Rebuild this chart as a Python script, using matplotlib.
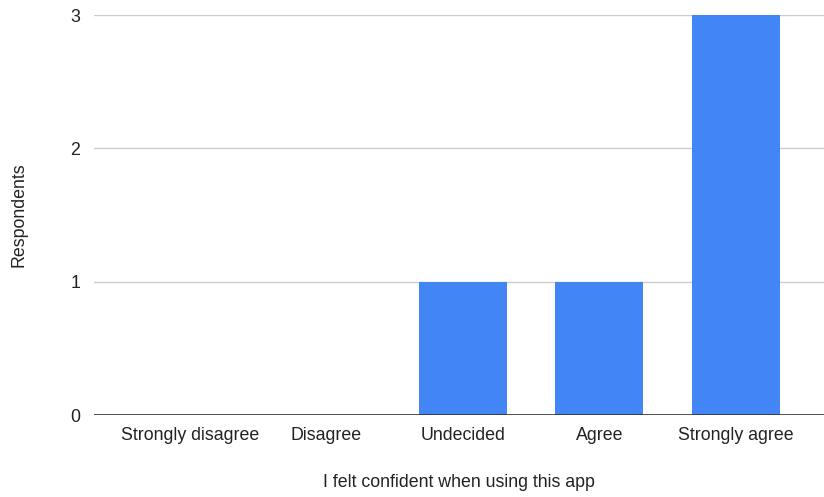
import matplotlib
matplotlib.use('Agg')
import matplotlib.pyplot as plt

BAR_COLOR = '#4285f4'
GRID_COLOR = '#cccccc'
TEXT_COLOR = '#222222'

categories = ['Strongly disagree', 'Disagree', 'Undecided', 'Agree', 'Strongly agree']
respondents = [0, 0, 1, 1, 3]
yticks = [0, 1, 2, 3]

plt.rcParams['font.family'] = ['Liberation Sans', 'DejaVu Sans']
FS = 12.8

fig = plt.figure(figsize=(8.24, 4.97), dpi=100)
ax = fig.add_axes([94 / 824, 82 / 497, 730 / 824, 400 / 497])

xs = list(range(len(categories)))
ax.bar(xs, respondents, width=0.645, color=BAR_COLOR, linewidth=0, zorder=3)

ax.set_xlim(-0.703, 4.645)
ax.set_ylim(0, 3)
ax.set_xticks(xs)
ax.set_xticklabels(categories, fontsize=FS, color=TEXT_COLOR)
ax.set_yticks(yticks)
ax.set_yticklabels([str(t) for t in yticks], fontsize=FS, color=TEXT_COLOR)
ax.tick_params(axis='both', length=0)
ax.tick_params(axis='x', pad=9)
ax.tick_params(axis='y', pad=10)

ax.grid(axis='y', color=GRID_COLOR, linewidth=1, zorder=0)
ax.axhline(0, color='#333333', linewidth=1.2, zorder=4)
for side in ['top', 'right', 'left', 'bottom']:
    ax.spines[side].set_visible(False)

ax.set_xlabel('I felt confident when using this app', fontsize=FS, color=TEXT_COLOR)
ax.set_ylabel('Respondents', fontsize=FS, color=TEXT_COLOR)
ax.xaxis.set_label_coords(0.5, -0.148)
ax.yaxis.set_label_coords(-0.091, 0.5)

fig.savefig('out.png', dpi=100, facecolor='white')
